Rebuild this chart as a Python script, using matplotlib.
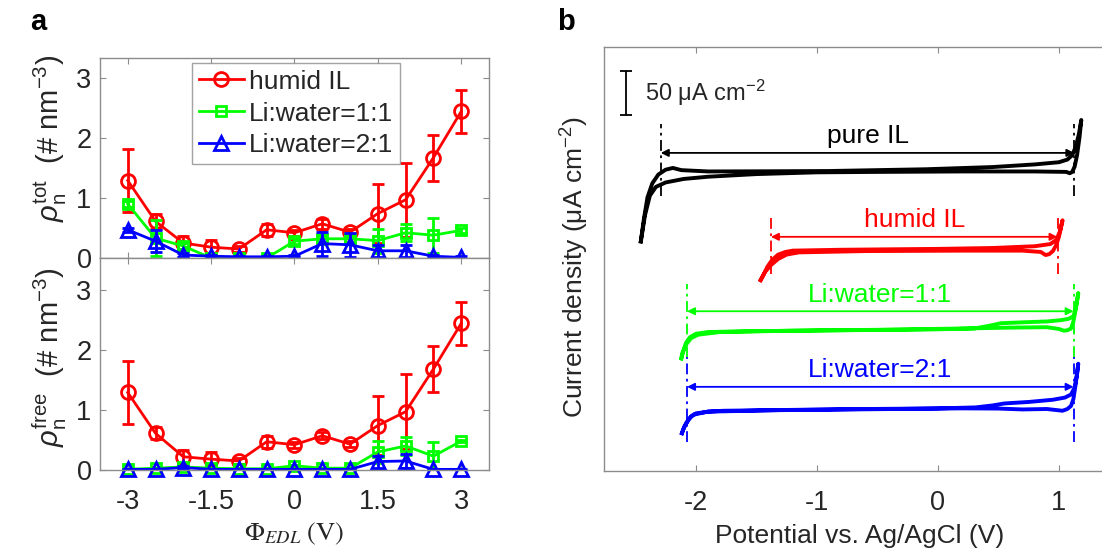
import numpy as np
import matplotlib
matplotlib.use('Agg')
import matplotlib.pyplot as plt

plt.rcParams['font.family'] = ['Liberation Sans', 'DejaVu Sans']
plt.rcParams['mathtext.fontset'] = 'custom'
plt.rcParams['mathtext.rm'] = 'Liberation Sans'
plt.rcParams['mathtext.it'] = 'Liberation Sans:italic'
plt.rcParams['mathtext.bf'] = 'Liberation Sans:bold'
plt.rcParams['axes.unicode_minus'] = False

# ---------------- panel a data (EDL potential vs number density) ----------------
phi = [-3, -2.5, -2, -1.5, -1, -0.5, 0, 0.5, 1, 1.5, 2, 2.5, 3]
series_names = ['humid IL', 'Li:water=1:1', 'Li:water=2:1']

tot_humid = [1.29, 0.61, 0.25, 0.18, 0.15, 0.47, 0.42, 0.57, 0.43, 0.74, 0.97, 1.67, 2.44]
tot_humid_err = [0.53, 0.12, 0.12, 0.12, 0.05, 0.10, 0.05, 0.08, 0.05, 0.49, 0.62, 0.38, 0.36]
tot_w11 = [0.90, 0.33, 0.20, 0.0, 0.0, 0.0, 0.28, 0.32, 0.32, 0.29, 0.42, 0.38, 0.46]
tot_w11_err = [0.05, 0.30, 0.05, 0.02, 0.02, 0.02, 0.05, 0.05, 0.05, 0.20, 0.14, 0.29, 0.04]
tot_w21 = [0.47, 0.28, 0.05, 0.03, 0.02, 0.02, 0.03, 0.24, 0.22, 0.12, 0.12, 0.03, 0.01]
tot_w21_err = [0.03, 0.18, 0.03, 0.02, 0.02, 0.02, 0.02, 0.20, 0.20, 0.10, 0.10, 0.02, 0.02]

free_humid = [1.29, 0.61, 0.22, 0.18, 0.15, 0.47, 0.42, 0.57, 0.43, 0.74, 0.97, 1.68, 2.44]
free_humid_err = [0.53, 0.10, 0.12, 0.12, 0.05, 0.10, 0.05, 0.06, 0.05, 0.49, 0.62, 0.38, 0.36]
free_w11 = [0.01, 0.03, 0.05, 0.03, 0.02, 0.02, 0.07, 0.03, 0.03, 0.30, 0.40, 0.23, 0.48]
free_w11_err = [0.01, 0.01, 0.02, 0.01, 0.01, 0.01, 0.02, 0.01, 0.01, 0.19, 0.15, 0.23, 0.02]
free_w21 = [0.01, 0.01, 0.04, 0.01, 0.01, 0.01, 0.01, 0.01, 0.01, 0.14, 0.15, 0.01, 0.01]
free_w21_err = [0.01, 0.01, 0.02, 0.01, 0.01, 0.01, 0.01, 0.01, 0.01, 0.10, 0.12, 0.01, 0.01]

# ---------------- panel b data (CV curves, uA cm^-2 relative to plateau) ----------------
cv_names = ['pure IL', 'humid IL', 'Li:water=1:1', 'Li:water=2:1']
cv_offset = [340, 250, 159, 69]

pure_up_V = [-2.455, -2.43, -2.40, -2.36, -2.31, -2.25, -2.19, -2.12, -1.90, -1.40, -0.90, -0.10, 0.45, 0.80, 1.00, 1.07, 1.11, 1.14, 1.165, 1.185]
pure_up_j = [-80, -55, -30, -14, -4, 1.5, 3.5, 1.0, -0.5, -0.3, 0, 2, 4.5, 7.5, 10, 13, 18, 28, 42, 58]
pure_dn_V = [1.185, 1.17, 1.15, 1.13, 1.11, 1.09, 1.06, 0.80, 0.20, -0.50, -1.00, -1.50, -1.90, -2.10, -2.25, -2.33, -2.38, -2.42, -2.455]
pure_dn_j = [58, 38, 18, 5, -1, -2.5, -1, -0.5, -0.5, -1, -1.5, -3.5, -6.5, -9, -13, -18, -28, -50, -80]

humid_up_V = [-1.465, -1.44, -1.41, -1.37, -1.32, -1.26, -1.20, -0.80, 0.00, 0.45, 0.80, 0.93, 0.98, 1.01, 1.03]
humid_up_j = [-34, -28, -19, -11, -5, -2, -0.5, 0.5, 1.5, 2.5, 4.5, 7, 12, 22, 34]
humid_dn_V = [1.03, 1.00, 0.975, 0.95, 0.92, 0.89, 0.85, 0.70, 0.20, -0.60, -1.15, -1.25, -1.32, -1.38, -1.43, -1.465]
humid_dn_j = [34, 15, 5, -1, -4.5, -5.5, -2, -0.5, -0.5, -1, -2.5, -5, -10, -17, -25, -34]

w11_up_V = [-2.12, -2.10, -2.08, -2.05, -2.00, -1.90, -1.50, -0.80, -0.10, 0.30, 0.42, 0.52, 0.70, 0.90, 1.02, 1.08, 1.12, 1.14, 1.16]
w11_up_j = [-32, -22, -14, -8, -4, -2, -1, 0, 0.8, 2, 5, 8, 9, 10, 11.5, 13, 16, 25, 42]
w11_dn_V = [1.16, 1.14, 1.12, 1.10, 1.07, 1.04, 1.00, 0.90, 0.60, 0.20, -0.50, -1.20, -1.80, -1.98, -2.04, -2.08, -2.11, -2.12]
w11_dn_j = [42, 25, 10, 2, 0, -0.5, 1.5, 3.5, 3, 2, 0.5, -0.5, -2, -5, -9, -16, -25, -32]

w21_up_V = [-2.115, -2.10, -2.07, -2.04, -2.00, -1.90, -1.77, -1.20, -0.66, 0.00, 0.31, 0.45, 0.55, 0.75, 0.95, 1.05, 1.10, 1.13, 1.15, 1.16]
w21_up_j = [-27, -21, -14, -8, -4.5, -2.5, -1.5, -0.5, 0.4, 1.2, 2.3, 4.5, 6.8, 8.5, 11, 13.5, 17, 25, 40, 52]
w21_dn_V = [1.16, 1.14, 1.12, 1.10, 1.07, 1.03, 0.90, 0.70, 0.50, 0.20, -0.50, -1.30, -1.90, -2.02, -2.06, -2.09, -2.115]
w21_dn_j = [52, 30, 12, 4, 0.5, -1.5, 0.5, 0, 1, 1.2, 0.3, -0.8, -2.5, -6, -11, -18, -27]

# electrochemical window limits (V)
win_left = [-2.29, -1.38, -2.073, -2.073]
win_right = [1.128, 0.989, 1.122, 1.122]

scale_bar_value = 50  # uA cm^-2

# ---------------- styles ----------------
red, green, blue = '#ff0000', '#00ff00', '#0000ff'
spine_col = '#8c8c8c'
txt_col = '#262626'
fs = 19.5

fig = plt.figure(figsize=(11.02, 5.5), dpi=100)
ax1 = fig.add_axes([0.0907, 0.5309, 0.353, 0.3636])
ax2 = fig.add_axes([0.0907, 0.1455, 0.353, 0.3855])
axb = fig.add_axes([0.548, 0.1436, 0.47, 0.771])


def style(ax):
    for s in ax.spines.values():
        s.set_color(spine_col)
        s.set_linewidth(1.0)
    ax.tick_params(direction='in', length=4, width=0.8, color=spine_col,
                   labelsize=fs, labelcolor=txt_col, top=True, right=True)


panel_a = [
    (ax1, [(tot_humid, tot_humid_err), (tot_w11, tot_w11_err), (tot_w21, tot_w21_err)], 3.33),
    (ax2, [(free_humid, free_humid_err), (free_w11, free_w11_err), (free_w21, free_w21_err)], 3.53),
]
markers = [('o', 10), ('s', 7), ('^', 10)]
cols = [red, green, blue]

for ax, data, ytop in panel_a:
    for (y, e), (m, ms), c, name in zip(data, markers, cols, series_names):
        ax.errorbar(phi, y, yerr=e, fmt='none', ecolor=c, elinewidth=2,
                    capsize=4, capthick=2)
        ln, = ax.plot(phi, y, color=c, lw=2, marker=m, ms=ms, mfc='none',
                      mew=2, label=name)
        ln.set_clip_on(False)
    ax.set_xlim(-3.5, 3.5)
    ax.set_ylim(0, ytop)
    ax.set_xticks([-3, -1.5, 0, 1.5, 3])
    ax.set_yticks([0, 1, 2, 3])
    style(ax)
    ax.tick_params(axis='y', pad=6)
    ax.tick_params(axis='x', pad=14)

ax1.tick_params(labelbottom=False)
ax2.set_xticklabels(['-3', '-1.5', '0', '1.5', '3'])

leg = ax1.legend(loc='upper left', bbox_to_anchor=(0.237, 0.975), fontsize=19,
                 frameon=True, fancybox=False, edgecolor=spine_col,
                 borderpad=0.25, labelspacing=0.3, handlelength=1.7,
                 handletextpad=0.2, borderaxespad=0)
leg.get_frame().set_linewidth(1.0)
for t in leg.get_texts():
    t.set_color(txt_col)

ax1.set_ylabel(r'$\rho_{\rm n}^{\rm tot}$  (# nm$^{-3}$)', fontsize=21, color=txt_col)
ax2.set_ylabel(r'$\rho_{\rm n}^{\rm free}$  (# nm$^{-3}$)', fontsize=21, color=txt_col)
ax1.yaxis.set_label_coords(-0.08, 0.6)
ax2.yaxis.set_label_coords(-0.08, 0.53)
ax2.set_xlabel(r'$\Phi_{EDL}\ (\mathrm{V})$', fontsize=19, color=txt_col,
               math_fontfamily='stix')
ax2.xaxis.set_label_coords(0.5, -0.24)

# ---------------- panel b ----------------
cv_cols = ['black', red, green, blue]
cv_data = [
    (pure_up_V, pure_up_j, pure_dn_V, pure_dn_j),
    (humid_up_V, humid_up_j, humid_dn_V, humid_dn_j),
    (w11_up_V, w11_up_j, w11_dn_V, w11_dn_j),
    (w21_up_V, w21_up_j, w21_dn_V, w21_dn_j),
]
dash_span = [(-28, 54), (-27, 40), (-30, 53), (-37, 60)]
arrow_j = [20.6, 15.2, 21.6, 25.7]

for (uv, uj, dv, dj), off, c, name, wl, wr, (d0, d1), aj in zip(
        cv_data, cv_offset, cv_cols, cv_names, win_left, win_right, dash_span, arrow_j):
    V = np.array(uv + dv)
    J = np.array(uj + dj) + off
    axb.plot(V, J, color=c, lw=2.8, solid_joinstyle='round')
    for xv in (wl, wr):
        axb.plot([xv, xv], [off + d0, off + d1], color=c, lw=1.3,
                 linestyle=(0, (6, 2.5, 1.5, 2.5)))
    axb.annotate('', xy=(wl, off + aj), xytext=(wr, off + aj),
                 arrowprops=dict(arrowstyle='<|-|>', color=c, lw=1.3,
                                 mutation_scale=11, shrinkA=0, shrinkB=0))
    axb.annotate(name, xy=((wl + wr) / 2, off + aj), xytext=(0, 12),
                 textcoords='offset points', ha='center', va='center',
                 fontsize=19, color=c)

axb.errorbar([-2.577], [428.6], yerr=[scale_bar_value / 2], fmt='none',
             ecolor='black', elinewidth=1.3, capsize=4, capthick=1.3)
axb.text(-2.42, 428.6, r'50 μA cm$^{-2}$', fontsize=17, color=txt_col,
         va='center', ha='left')

axb.set_xlim(-2.76, 1.52)
axb.set_ylim(-1, 481)
axb.set_xticks([-2, -1, 0, 1])
axb.set_yticks([])
style(axb)
axb.tick_params(axis='x', pad=14)
axb.spines['right'].set_visible(False)
axb.set_xlabel('Potential vs. Ag/AgCl (V)', fontsize=19, color=txt_col)
axb.xaxis.set_label_coords(0.494, -0.125)
axb.set_ylabel(r'Current density (μA cm$^{-2}$)', fontsize=19, color=txt_col)
axb.yaxis.set_label_coords(-0.025, 0.48)

fig.text(0.035, 0.96, 'a', fontsize=21, fontweight='bold', ha='center', va='center')
fig.text(0.514, 0.96, 'b', fontsize=21, fontweight='bold', ha='center', va='center')

fig.savefig('out.png', dpi=100)
